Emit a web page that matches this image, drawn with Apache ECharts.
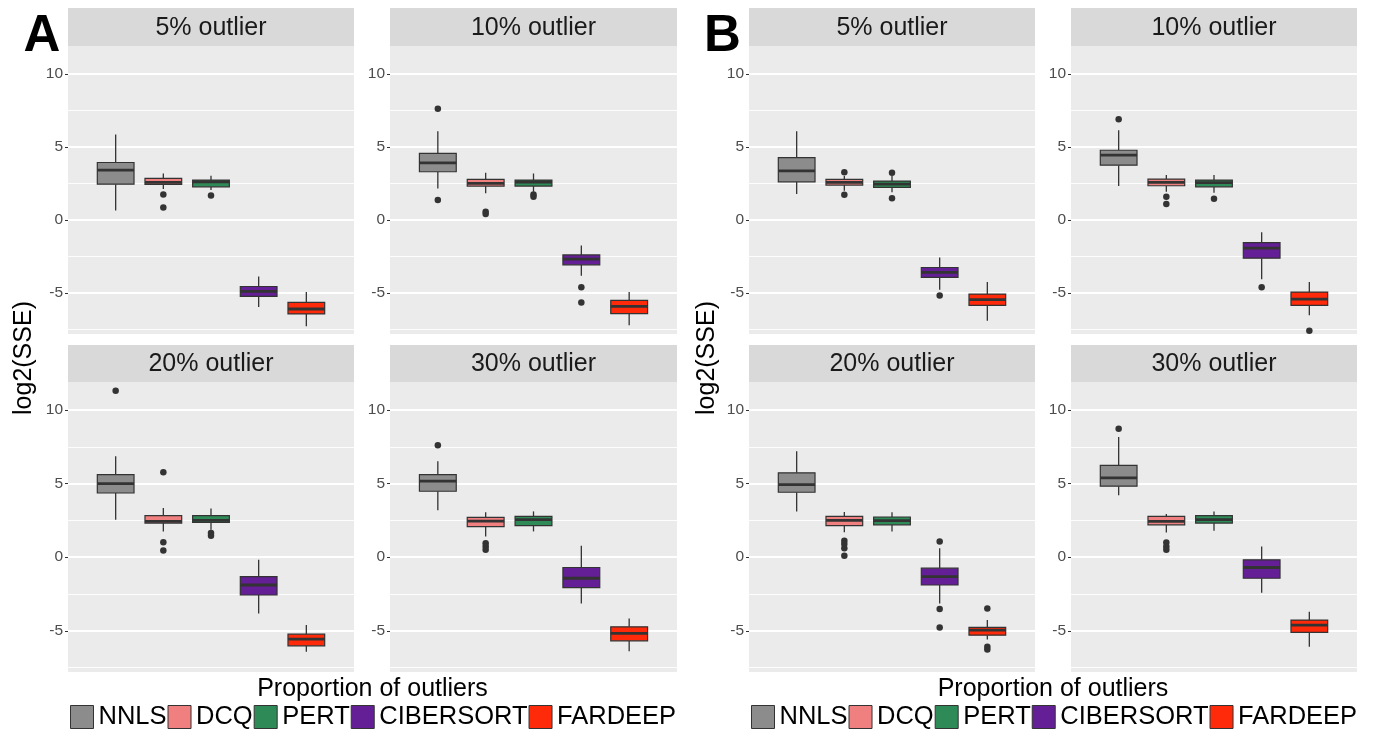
<!DOCTYPE html>
<html><head><meta charset="utf-8">
<style>html,body{margin:0;padding:0;background:#fff}#chart{width:1376px;height:755px}</style>
<script src="https://cdn.jsdelivr.net/npm/echarts@6/dist/echarts.min.js"></script>
</head><body><div id="chart"></div>
<script>
// ---- data ----
const methods = ['NNLS', 'DCQ', 'PERT', 'CIBERSORT', 'FARDEEP'];
const methodColors = ['#8C8C8C', '#F08080', '#2E8B57', '#641E96', '#FF2A0A'];
const facetNames = ['5% outlier', '10% outlier', '20% outlier', '30% outlier'];
const panelLabels = ['A', 'B'];
const yTicks = [-5, 0, 5, 10];
const yMinor = [-7.5, -2.5, 2.5, 7.5];
const yTitle = 'log2(SSE)';
const xTitle = 'Proportion of outliers';

// box stats per method: [lower whisker, Q1, median, Q3, upper whisker]
const boxA5  = [[0.64, 2.45, 3.41, 3.93, 5.84], [2.11, 2.43, 2.57, 2.84, 3.18], [2.05, 2.27, 2.60, 2.73, 3.02], [-5.95, -5.23, -4.89, -4.55, -3.86], [-7.27, -6.43, -6.09, -5.64, -4.93]];
const outA5  = [[], [1.75, 0.86], [1.68], [], []];
const boxA10 = [[2.16, 3.30, 3.91, 4.55, 6.07], [1.82, 2.32, 2.50, 2.77, 3.23], [1.93, 2.32, 2.59, 2.73, 3.18], [-3.82, -3.07, -2.68, -2.39, -1.75], [-7.20, -6.41, -5.91, -5.50, -4.93]];
const outA10 = [[7.61, 1.36], [0.57, 0.41], [1.75, 1.59], [-4.61, -5.64], []];
const boxA20 = [[2.55, 4.36, 5.00, 5.61, 6.86], [1.75, 2.32, 2.43, 2.82, 3.34], [1.86, 2.36, 2.50, 2.82, 3.30], [-3.82, -2.57, -1.89, -1.32, -0.18], [-6.43, -6.02, -5.57, -5.23, -4.61]];
const outA20 = [[11.3], [5.77, 1.02, 0.45], [1.64, 1.45], [], []];
const boxA30 = [[3.18, 4.48, 5.16, 5.61, 6.52], [1.41, 2.07, 2.45, 2.70, 3.05], [1.75, 2.14, 2.55, 2.77, 3.11], [-3.14, -2.07, -1.43, -0.70, 0.77], [-6.39, -5.68, -5.18, -4.73, -4.16]];
const outA30 = [[7.61], [0.95, 0.73, 0.50], [], [], []];

const boxB5  = [[1.77, 2.61, 3.36, 4.27, 6.07], [2.00, 2.39, 2.57, 2.77, 3.00], [1.90, 2.23, 2.45, 2.66, 3.00], [-4.77, -3.93, -3.59, -3.25, -2.57], [-6.89, -5.84, -5.45, -5.07, -4.25]];
const outB5  = [[], [3.27, 1.73], [3.23, 1.48], [-5.16], []];
const boxB10 = [[2.32, 3.75, 4.43, 4.77, 6.14], [1.93, 2.34, 2.57, 2.80, 3.07], [1.86, 2.27, 2.55, 2.73, 3.07], [-4.05, -2.61, -1.93, -1.55, -0.84], [-6.52, -5.84, -5.41, -4.93, -4.25]];
const outB10 = [[6.89], [1.59, 1.09], [1.45], [-4.61], [-7.57]];
const boxB20 = [[3.11, 4.41, 4.93, 5.73, 7.20], [1.70, 2.14, 2.50, 2.77, 3.07], [1.75, 2.20, 2.48, 2.73, 3.05], [-3.14, -1.89, -1.32, -0.75, 0.61], [-5.60, -5.30, -4.95, -4.77, -4.27]];
const outB20 = [[], [1.11, 0.89, 0.61, 0.09], [], [1.07, -3.52, -4.77], [-3.48, -6.09, -6.27]];
const boxB30 = [[4.20, 4.82, 5.39, 6.23, 8.16], [1.68, 2.20, 2.43, 2.77, 2.93], [1.80, 2.32, 2.55, 2.82, 3.11], [-2.41, -1.43, -0.70, -0.18, 0.73], [-6.09, -5.11, -4.61, -4.27, -3.70]];
const outB30 = [[8.73], [1.00, 0.73, 0.50], [], [], []];

// ---- layout ----
const boxes = [[boxA5, boxA10, boxA20, boxA30], [boxB5, boxB10, boxB20, boxB30]];
const outs = [[outA5, outA10, outA20, outA30], [outB5, outB10, outB20, outB30]];
const FONT = '"Liberation Sans", Arial, sans-serif';
const gridLeft = [[68, 390], [749, 1071]];
const gridWidth = [[286, 287], [286, 286]];
const rowTop = [46, 382];
const rowHeight = [288, 290];
const stripTop = [8, 345];
const stripH = [38, 37];
const xCats = [''].concat(methods).concat([' ']);

function renderBox(params, api) {
  const x = api.value(0);
  const lo = api.coord([x, api.value(1)]);
  const q1 = api.coord([x, api.value(2)]);
  const md = api.coord([x, api.value(3)]);
  const q3 = api.coord([x, api.value(4)]);
  const hi = api.coord([x, api.value(5)]);
  const bw = api.size([1, 0])[0] * 0.77;
  const fill = api.visual('color');
  const cx = md[0];
  return {
    type: 'group',
    children: [
      { type: 'line', shape: { x1: cx, y1: hi[1], x2: cx, y2: q3[1] }, style: { stroke: '#333', lineWidth: 1.3 } },
      { type: 'line', shape: { x1: cx, y1: q1[1], x2: cx, y2: lo[1] }, style: { stroke: '#333', lineWidth: 1.3 } },
      { type: 'rect', shape: { x: cx - bw / 2, y: q3[1], width: bw, height: q1[1] - q3[1] }, style: { fill: fill, stroke: '#333', lineWidth: 1.2 } },
      { type: 'line', shape: { x1: cx - bw / 2, y1: md[1], x2: cx + bw / 2, y2: md[1] }, style: { stroke: '#333', lineWidth: 2.8 } }
    ]
  };
}

const grid = [], xAxis = [], yAxis = [], series = [], graphics = [];
for (let p = 0; p < 2; p++) {
  for (let f = 0; f < 4; f++) {
    const gi = p * 4 + f, row = f >> 1, col = f & 1;
    const left = gridLeft[p][col], width = gridWidth[p][col];
    grid.push({ left: left, top: rowTop[row], width: width, height: rowHeight[row], show: true, backgroundColor: '#EBEBEB', borderWidth: 0 });
    xAxis.push({ type: 'category', gridIndex: gi, data: xCats, boundaryGap: false, show: false });
    yAxis.push({
      type: 'value', gridIndex: gi, min: -7.8, max: 11.9, splitNumber: 4,
      axisLine: { show: false },
      axisTick: { show: true, length: 3, lineStyle: { color: '#333', width: 1 }, customValues: yTicks },
      axisLabel: { color: '#4D4D4D', fontSize: 15.5, margin: 5, fontFamily: FONT, customValues: yTicks },
      splitLine: { show: false }
    });
    methods.forEach(function (m, k) {
      const s = {
        type: 'custom', name: m, xAxisIndex: gi, yAxisIndex: gi,
        renderItem: renderBox, encode: { x: 0, y: [1, 2, 3, 4, 5] },
        itemStyle: { color: methodColors[k], borderColor: '#333', borderWidth: 1 },
        silent: true, animation: false,
        data: [[m].concat(boxes[p][f][k])]
      };
      if (k === 0) {
        s.markLine = {
          silent: true, symbol: 'none', z: 1, animation: false, label: { show: false },
          data: yTicks.map(function (v) { return { yAxis: v, lineStyle: { color: '#FFFFFF', width: 1.8, type: 'solid' } }; })
            .concat(yMinor.map(function (v) { return { yAxis: v, lineStyle: { color: '#FFFFFF', width: 0.9, type: 'solid' } }; }))
        };
      }
      series.push(s);
    });
    const pts = [];
    methods.forEach(function (m, k) { outs[p][f][k].forEach(function (v) { pts.push([m, v]); }); });
    series.push({ type: 'scatter', name: 'outliers', xAxisIndex: gi, yAxisIndex: gi, symbol: 'circle', symbolSize: 6.5, itemStyle: { color: '#333333', opacity: 1 }, silent: true, animation: false, z: 3, data: pts });

    // strip
    const sTop = stripTop[row];
    graphics.push({ type: 'rect', shape: { x: left, y: sTop, width: width, height: stripH[row] }, style: { fill: '#D9D9D9' }, silent: true });
    graphics.push({ type: 'text', x: left + width / 2, y: sTop + stripH[row] / 2 + 1, style: { text: facetNames[f], fontSize: 25, fontFamily: FONT, fill: '#1A1A1A', align: 'center', verticalAlign: 'middle' }, silent: true });
  }
}

const panelCenterX = [372.5, 1053];
const labelX = [42, 722.5];
const yTitleX = [24, 707];
for (let p = 0; p < 2; p++) {
  graphics.push({ type: 'text', x: labelX[p], y: 37, style: { text: panelLabels[p], fontSize: 51, fontWeight: 'bold', fontFamily: FONT, fill: '#000', align: 'center', verticalAlign: 'middle' }, silent: true });
  graphics.push({ type: 'text', x: yTitleX[p], y: 358, rotation: Math.PI / 2, style: { text: yTitle, fontSize: 25, fontFamily: FONT, fill: '#000', align: 'center', verticalAlign: 'middle' }, silent: true });
  graphics.push({ type: 'text', x: panelCenterX[p], y: 689, style: { text: xTitle, fontSize: 25, fontFamily: FONT, fill: '#000', align: 'center', verticalAlign: 'middle' }, silent: true });
}

const legendBase = {
  data: methods, top: 699, width: 660, itemWidth: 23, itemHeight: 23, itemGap: 1, icon: 'rect',
  textStyle: { fontSize: 25.5, color: '#000', fontFamily: FONT },
  itemStyle: { borderColor: '#333', borderWidth: 1 }, selectedMode: false
};

const chart = echarts.init(document.getElementById('chart'));
chart.setOption({
  backgroundColor: '#FFFFFF',
  animation: false,
  grid: grid, xAxis: xAxis, yAxis: yAxis, series: series,
  legend: [Object.assign({ left: 65 }, legendBase), Object.assign({ left: 746 }, legendBase)],
  graphic: graphics
});
</script></body></html>
